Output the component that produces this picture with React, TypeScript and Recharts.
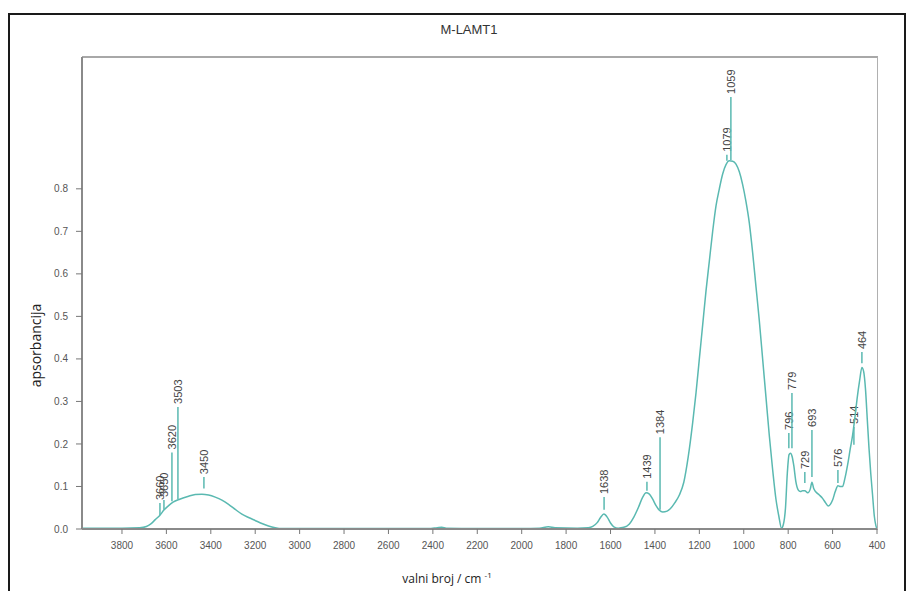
import { LineChart, Line, XAxis, YAxis, ReferenceLine } from "recharts";

// FTIR spectrum M-LAMT1
const wavenumbers = [
  3980, 3900, 3800, 3720, 3690, 3670, 3650, 3630, 3610, 3590, 3570, 3540, 3500,
  3470, 3440, 3410, 3380, 3350, 3320, 3290, 3260, 3230, 3200, 3170, 3140, 3110,
  3080, 3000, 2800, 2600, 2420, 2380, 2360, 2340, 2200, 2000, 1920, 1880, 1850,
  1750, 1700, 1680, 1660, 1645, 1630, 1615, 1600, 1585, 1565, 1540, 1515, 1495,
  1475, 1455, 1440, 1425, 1410, 1395, 1380, 1365, 1345, 1330, 1310, 1290, 1270,
  1250, 1230, 1215, 1200, 1185, 1170, 1155, 1140, 1125, 1110, 1095, 1080, 1065,
  1050, 1035, 1020, 1005, 990, 975, 960, 945, 930, 915, 900, 885, 870, 855, 842,
  830, 822, 812, 804, 796, 790, 782, 775, 765, 755, 745, 735, 725, 712, 700, 693,
  685, 675, 660, 645, 632, 620, 610, 600, 588, 576, 565, 555, 545, 532, 520, 510,
  500, 490, 478, 468, 460, 452, 444, 436, 428, 420, 412, 405, 400,
];
const absorbance = [
  0.002, 0.002, 0.002, 0.003, 0.006, 0.012, 0.022, 0.032, 0.045, 0.055, 0.063,
  0.07, 0.077, 0.081, 0.082, 0.08, 0.075, 0.068, 0.058, 0.046, 0.035, 0.027,
  0.02, 0.013, 0.007, 0.003, 0.001, 0.001, 0.001, 0.001, 0.001, 0.003, 0.004,
  0.002, 0.001, 0.001, 0.002, 0.005, 0.003, 0.002, 0.003, 0.006, 0.015, 0.027,
  0.035, 0.028, 0.014, 0.005, 0.002, 0.004, 0.012, 0.028, 0.05, 0.075, 0.085,
  0.082, 0.07, 0.055, 0.044, 0.04, 0.042, 0.048, 0.062, 0.08, 0.11, 0.17, 0.25,
  0.32, 0.4, 0.48, 0.56, 0.63, 0.7, 0.76, 0.8, 0.835, 0.857, 0.866, 0.865,
  0.858, 0.84, 0.81, 0.77, 0.72, 0.65, 0.57, 0.49, 0.4, 0.31, 0.22, 0.14, 0.07,
  0.03, 0.002, 0.01, 0.05, 0.13, 0.175, 0.178, 0.17, 0.15, 0.11, 0.092, 0.088,
  0.09, 0.09, 0.085, 0.095, 0.11, 0.095, 0.087, 0.08, 0.072, 0.062, 0.054,
  0.058, 0.068, 0.088, 0.102, 0.1, 0.1, 0.118, 0.152, 0.19, 0.22, 0.26, 0.305,
  0.35, 0.38, 0.37, 0.33, 0.26, 0.19, 0.13, 0.08, 0.03, 0.008, 0.0,
];

const xTicks = [3800, 3600, 3400, 3200, 3000, 2800, 2600, 2400, 2200, 2000, 1800, 1600, 1400, 1200, 1000, 800, 600, 400];
const yTicks = [0, 0.1, 0.2, 0.3, 0.4, 0.5, 0.6, 0.7, 0.8];

// peak markers
const peakLabels = ["3660", "3650", "3620", "3503", "3450", "1638", "1439", "1384", "1079", "1059", "796", "779", "729", "693", "576", "514", "464"];
const peakPositions = [3629, 3611, 3575, 3548, 3431, 1629, 1436, 1377, 1076, 1058, 797, 783, 725, 693, 576, 504, 468];
const peakTops = [0.061, 0.068, 0.18, 0.287, 0.122, 0.075, 0.111, 0.216, 0.88, 1.016, 0.226, 0.32, 0.134, 0.233, 0.139, 0.24, 0.416];
const peakBottoms = [0.033, 0.045, 0.065, 0.07, 0.095, 0.045, 0.09, 0.045, 0.866, 0.868, 0.19, 0.19, 0.108, 0.122, 0.108, 0.198, 0.39];

const LINE = "#5ab9b1";
const NARROW = "'Liberation Sans Narrow', 'Liberation Sans', Arial, sans-serif";

const data = wavenumbers.map((wn, i) => ({ wn, a: absorbance[i] }));

function PeakLabel(props: any) {
  const { viewBox, text } = props;
  if (!viewBox) return null;
  const x = viewBox.x + 4;
  const y = viewBox.y - 3;
  return (
    <text
      x={x}
      y={y}
      transform={`rotate(-90 ${x} ${y})`}
      fontSize={11}
      fill="#444"
      fontFamily="'Liberation Sans', Arial, sans-serif"
    >
      {text}
    </text>
  );
}

export default function App() {
  return (
    <div style={{ position: "fixed", left: 0, top: 0, width: 908, height: 591, background: "#fff", overflow: "hidden" }}>
      {/* outer frame */}
      <div
        style={{
          position: "absolute",
          left: 8,
          top: 13,
          width: 898,
          height: 600,
          borderTop: "2px solid #1a1a1a",
          borderLeft: "2px solid #1a1a1a",
          borderRight: "2px solid #1a1a1a",
          boxSizing: "border-box",
        }}
      />
      {/* plot box, top and right edges */}
      <div
        style={{
          position: "absolute",
          left: 82,
          top: 56,
          width: 796,
          height: 474,
          borderTop: "2px solid #a8a8a8",
          borderRight: "1px solid #b0b0b0",
          boxSizing: "border-box",
        }}
      />
      <div
        style={{
          position: "absolute",
          left: 369,
          top: 22,
          width: 200,
          textAlign: "center",
          fontSize: 13,
          fontFamily: NARROW,
          color: "#333",
        }}
      >
        M-LAMT1
      </div>
      <div
        style={{
          position: "absolute",
          left: 347,
          top: 569,
          width: 200,
          textAlign: "center",
          fontSize: 12,
          fontFamily: "'Open Sans', sans-serif",
          color: "#222",
        }}
      >
        valni broj / cm <sup style={{ fontSize: 8 }}>-1</sup>
      </div>
      <div
        style={{
          position: "absolute",
          left: -25,
          top: 336,
          width: 120,
          textAlign: "center",
          fontSize: 14,
          fontFamily: "'Open Sans', sans-serif",
          color: "#222",
          transform: "rotate(-90deg)",
        }}
      >
        apsorbancija
      </div>
      <div style={{ position: "absolute", left: 0, top: 0 }}>
        <LineChart width={908} height={591} data={data} margin={{ top: 57, right: 31, bottom: 32, left: 22 }}>
          <XAxis
            dataKey="wn"
            type="number"
            domain={[400, 3980]}
            reversed
            allowDataOverflow
            ticks={xTicks}
            height={30}
            tickSize={5}
            tickMargin={8}
            axisLine={{ stroke: "#8a8a8a", strokeWidth: 2 }}
            tickLine={{ stroke: "#777" }}
            tick={{ fontSize: 10, fill: "#555", fontFamily: NARROW }}
          />
          <YAxis
            type="number"
            domain={[0, 1.11]}
            allowDataOverflow
            ticks={yTicks}
            width={60}
            tickSize={6}
            tickMargin={8}
            tickFormatter={(v: number) => v.toFixed(1)}
            axisLine={{ stroke: "#8a8a8a", strokeWidth: 2 }}
            tickLine={{ stroke: "#777" }}
            tick={{ fontSize: 10, fill: "#555", fontFamily: NARROW }}
          />
          {peakPositions.map((p, i) => (
            <ReferenceLine
              key={peakLabels[i] + i}
              segment={[
                { x: p, y: peakBottoms[i] },
                { x: p, y: peakTops[i] },
              ]}
              stroke={LINE}
              strokeWidth={1.5}
              label={<PeakLabel text={peakLabels[i]} />}
            />
          ))}
          <Line
            type="monotone"
            dataKey="a"
            stroke={LINE}
            strokeWidth={1.5}
            dot={false}
            isAnimationActive={false}
          />
        </LineChart>
      </div>
    </div>
  );
}
